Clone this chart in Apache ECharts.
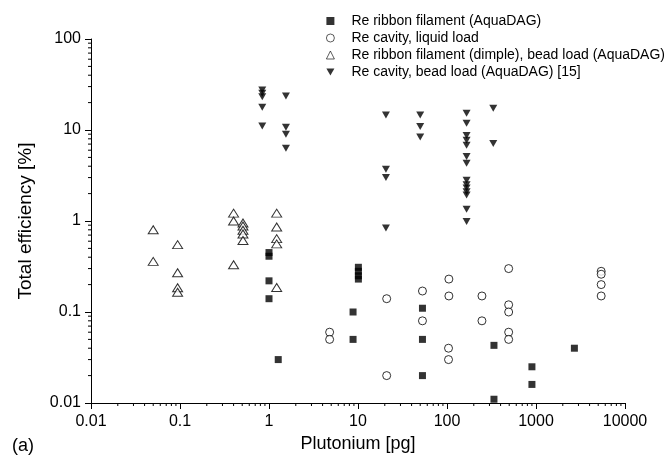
<!DOCTYPE html>
<html>
<head>
<meta charset="utf-8">
<script src="https://cdn.jsdelivr.net/npm/echarts@6/dist/echarts.min.js"></script>
<style>html,body{margin:0;padding:0;background:#fff}#c{width:666px;height:459px}</style>
</head>
<body>
<div id="c"></div>
<script>
// ---- data ----
const seriesNames = [
  'Re ribbon filament (AquaDAG)',
  'Re cavity, liquid load',
  'Re ribbon filament (dimple), bead load (AquaDAG)',
  'Re cavity, bead load (AquaDAG) [15]'
];
const ribbonAquaDAG = [
  [1.0, 0.45], [1.0, 0.41], [1.0, 0.22], [1.0, 0.14], [1.27, 0.03],
  [8.8, 0.1], [8.8, 0.05], [10.1, 0.31], [10.1, 0.28], [10.1, 0.25], [10.1, 0.23],
  [53, 0.11], [53, 0.05], [53, 0.02], [337, 0.043], [337, 0.011],
  [900, 0.025], [900, 0.016], [2700, 0.04]
];
const cavityLiquid = [
  [4.8, 0.06], [4.8, 0.05], [21, 0.14], [21, 0.02], [53, 0.17], [53, 0.08],
  [105, 0.23], [105, 0.15], [104, 0.04], [104, 0.03], [247, 0.15], [247, 0.08],
  [493, 0.3], [493, 0.12], [493, 0.1], [493, 0.06], [493, 0.05],
  [5400, 0.28], [5400, 0.26], [5400, 0.2], [5400, 0.15]
];
const ribbonDimpleBead = [
  [0.05, 0.8], [0.05, 0.36], [0.094, 0.55], [0.094, 0.27], [0.094, 0.185], [0.094, 0.165],
  [0.4, 1.22], [0.4, 1.0], [0.4, 0.33], [0.51, 0.95], [0.51, 0.88], [0.51, 0.79],
  [0.51, 0.72], [0.51, 0.61], [1.22, 1.22], [1.22, 0.86], [1.22, 0.64], [1.22, 0.56], [1.22, 0.186]
];
const cavityBead = [
  [0.84, 27.5], [0.84, 25.4], [0.84, 23.2], [0.84, 17.8], [0.84, 11.1],
  [1.55, 23.7], [1.55, 10.7], [1.55, 9.0], [1.55, 6.3],
  [20.6, 14.6], [20.6, 3.7], [20.6, 3.0], [20.6, 0.84],
  [50, 14.6], [50, 10.9], [50, 8.4],
  [166, 15.3], [166, 11.9], [166, 8.7], [166, 7.7], [166, 6.8], [166, 5.1], [166, 4.3],
  [166, 2.8], [166, 2.5], [166, 2.3], [166, 2.1], [166, 1.93], [166, 1.35], [166, 0.99],
  [331, 17.3], [331, 7.1]
];
const xTickLabels = ['0.01', '0.1', '1', '10', '100', '1000', '10000'];
const yTickLabels = ['0.01', '0.1', '1', '10', '100'];
const xTitle = 'Plutonium [pg]';
const yTitle = 'Total efficiency [%]';
const panelLabel = '(a)';

// ---- minor tick positions (axis decoration) ----
function minorTicks(minExp, maxExp) {
  const out = [];
  for (let e = minExp; e < maxExp; e++) {
    for (let k = 2; k <= 9; k++) out.push([k * Math.pow(10, e)]);
  }
  return out;
}
const FONT = 'Liberation Sans, Arial, sans-serif';
const chart = echarts.init(document.getElementById('c'), null, {renderer: 'canvas'});
const xMin = 0.01, yMin = 0.01;
const DOWN_TRI = 'path://M0,0L10,0L5,8.7Z';

function labelFmt(list) {
  return function (v) {
    const i = Math.round(Math.log10(v) + 2);
    return list[i] !== undefined ? list[i] : '';
  };
}

chart.setOption({
  animation: false,
  backgroundColor: '#fff',
  textStyle: {fontFamily: FONT},
  grid: {left: 91, right: 41, top: 39, bottom: 56, containLabel: false},
  xAxis: {
    type: 'log', logBase: 10, min: 0.01, max: 10000,
    axisLine: {show: true, onZero: false, lineStyle: {color: '#000', width: 1}},
    axisTick: {show: true, length: 6, lineStyle: {color: '#000', width: 1}},
    minorTick: {show: false},
    splitLine: {show: false},
    axisLabel: {color: '#000', fontSize: 16, fontFamily: FONT, margin: 11, formatter: labelFmt(xTickLabels)},
    name: xTitle, nameLocation: 'middle', nameGap: 30,
    nameTextStyle: {color: '#000', fontSize: 18, fontFamily: FONT}
  },
  yAxis: {
    type: 'log', logBase: 10, min: 0.01, max: 100,
    axisLine: {show: true, onZero: false, lineStyle: {color: '#000', width: 1}},
    axisTick: {show: true, length: 6, lineStyle: {color: '#000', width: 1}},
    minorTick: {show: false},
    splitLine: {show: false},
    axisLabel: {color: '#000', fontSize: 16, fontFamily: FONT, margin: 10, formatter: labelFmt(yTickLabels)},
    name: yTitle, nameLocation: 'middle', nameGap: 56, nameRotate: 90,
    nameTextStyle: {color: '#000', fontSize: 19, fontFamily: FONT}
  },
  legend: {
    data: [
      {name: seriesNames[0], icon: 'rect'},
      {name: seriesNames[1], icon: 'circle'},
      {name: seriesNames[2], icon: 'triangle'},
      {name: seriesNames[3], icon: DOWN_TRI}
    ],
    orient: 'vertical', left: 326, top: 14, padding: 0,
    itemWidth: 8, itemHeight: 8, itemGap: 3,
    itemStyle: {borderWidth: 0.8},
    textStyle: {color: '#000', fontSize: 14, fontFamily: FONT, padding: [0, 0, 0, 12]},
    selectedMode: false
  },
  graphic: [{
    type: 'text', left: 12, top: 437,
    style: {text: panelLabel, fill: '#000', font: '18px ' + FONT}
  }],
  series: [
    {
      name: seriesNames[0], type: 'scatter', data: ribbonAquaDAG,
      symbol: 'rect', symbolSize: 7,
      itemStyle: {color: '#000'}
    },
    {
      name: seriesNames[1], type: 'scatter', data: cavityLiquid,
      symbol: 'circle', symbolSize: 8,
      itemStyle: {color: '#fff', borderColor: '#000', borderWidth: 1}
    },
    {
      name: seriesNames[2], type: 'scatter', data: ribbonDimpleBead,
      symbol: 'triangle', symbolSize: [10, 8],
      itemStyle: {color: '#fff', borderColor: '#000', borderWidth: 1}
    },
    {
      name: seriesNames[3], type: 'scatter', data: cavityBead,
      symbol: DOWN_TRI, symbolSize: [8, 7],
      itemStyle: {color: '#000'}
    },
    {
      type: 'custom', silent: true, clip: false, z: 1,
      data: minorTicks(-2, 4),
      renderItem: function (params, api) {
        const p = api.coord([api.value(0), yMin]);
        return {type: 'line', shape: {x1: p[0], y1: p[1], x2: p[0], y2: p[1] + 3},
          style: {stroke: '#000', lineWidth: 1}};
      }
    },
    {
      type: 'custom', silent: true, clip: false, z: 1,
      data: minorTicks(-2, 2),
      renderItem: function (params, api) {
        const p = api.coord([xMin, api.value(0)]);
        return {type: 'line', shape: {x1: p[0], y1: p[1], x2: p[0] - 3, y2: p[1]},
          style: {stroke: '#000', lineWidth: 1}};
      }
    }
  ]
});
</script>
</body>
</html>
